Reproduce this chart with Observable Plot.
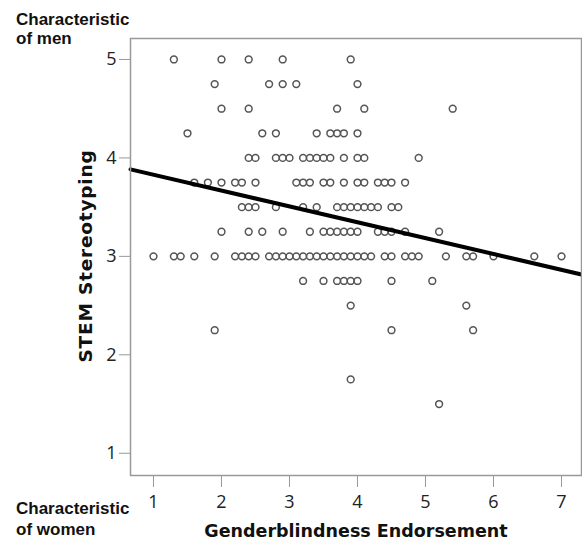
<!DOCTYPE html>
<html>
<head>
<meta charset="utf-8">
<script src="https://cdn.jsdelivr.net/npm/d3@7"></script>
<script src="https://cdn.jsdelivr.net/npm/@observablehq/plot@0.6"></script>
<style>
  html, body { margin: 0; padding: 0; background: #fff; }
  #chart { width: 582px; height: 543px; }
</style>
</head>
<body>
<div id="chart"></div>
<script>
// STEM stereotyping levels (y) and the genderblindness scores (x) observed at each level
const stemLevels = [5, 4.75, 4.5, 4.25, 4, 3.75, 3.5, 3.25, 3, 2.75, 2.5, 2.25, 1.75, 1.5];
const xAt500 = [1.3, 2.0, 2.4, 2.9, 3.9];
const xAt475 = [1.9, 2.7, 2.9, 3.1, 4.0];
const xAt450 = [2.0, 2.4, 3.7, 4.1, 5.4];
const xAt425 = [1.5, 2.6, 2.8, 3.4, 3.6, 3.7, 3.8, 4.0];
const xAt400 = [2.4, 2.5, 2.8, 2.9, 3.0, 3.2, 3.3, 3.4, 3.5, 3.6, 3.8, 4.0, 4.1, 4.9];
const xAt375 = [1.6, 1.8, 2.0, 2.2, 2.3, 2.5, 3.1, 3.2, 3.3, 3.5, 3.6, 3.8, 4.0, 4.1, 4.3, 4.4, 4.5, 4.7];
const xAt350 = [2.3, 2.4, 2.5, 2.8, 3.2, 3.4, 3.7, 3.8, 3.9, 4.0, 4.1, 4.2, 4.3, 4.5, 4.6];
const xAt325 = [2.0, 2.4, 2.6, 2.9, 3.3, 3.5, 3.6, 3.7, 3.8, 3.9, 4.0, 4.3, 4.4, 4.5, 4.7, 5.2];
const xAt300 = [1.0, 1.3, 1.4, 1.6, 1.9, 2.2, 2.3, 2.4, 2.5, 2.7, 2.8, 2.9, 3.0, 3.1, 3.2, 3.3, 3.4, 3.5, 3.6, 3.7, 3.8, 3.9, 4.0, 4.1, 4.2, 4.4, 4.5, 4.7, 4.8, 4.9, 5.3, 5.6, 5.7, 6.0, 6.6, 7.0];
const xAt275 = [3.2, 3.5, 3.7, 3.8, 3.9, 4.0, 4.5, 5.1];
const xAt250 = [3.9, 5.6];
const xAt225 = [1.9, 4.5, 5.7];
const xAt175 = [3.9];
const xAt150 = [5.2];
const xByLevel = [xAt500, xAt475, xAt450, xAt425, xAt400, xAt375, xAt350, xAt325, xAt300, xAt275, xAt250, xAt225, xAt175, xAt150];

// Fitted regression line
const fitIntercept = 3.99;
const fitSlope = -0.161;

// Axis ticks and labels
const xTicks = [1, 2, 3, 4, 5, 6, 7];
const yTicks = [1, 2, 3, 4, 5];
const xTitle = "Genderblindness Endorsement";
const yTitle = "STEM Stereotyping";
const topNote = ["Characteristic", "of men"];
const bottomNote = ["Characteristic", "of women"];

const points = stemLevels.flatMap((lvl, i) => xByLevel[i].map(x => ({x, y: lvl})));

const xDomain = [0.662, 7.294];
const yDomain = [0.774, 5.213];
const fitLine = xDomain.map(x => ({x, y: fitIntercept + fitSlope * x}));

const W = 582, H = 543;
const plot = Plot.plot({
  width: W,
  height: H,
  marginLeft: 130,
  marginRight: 1,
  marginTop: 38,
  marginBottom: 68,
  style: {fontFamily: "'Open Sans', sans-serif", fontSize: "19px", background: "#fff", color: "#222"},
  x: {domain: xDomain},
  y: {domain: yDomain},
  marks: [
    Plot.dot(points, {x: "x", y: "y", r: 3.4, stroke: "#555", strokeWidth: 1.5, fill: "none"}),
    Plot.line(fitLine, {x: "x", y: "y", stroke: "#000", strokeWidth: 4}),
    Plot.frame({stroke: "#999", strokeWidth: 1.5}),
    Plot.axisX({ticks: xTicks, tickFormat: d => String(d), tickSize: 12, tickPadding: 8, stroke: "#999", fill: "#222", label: null}),
    Plot.axisY({ticks: yTicks, tickFormat: d => String(d), tickSize: 11, tickPadding: 3, stroke: "#999", fill: "#222", label: null})
  ]
});

document.getElementById("chart").appendChild(plot);

const svg = d3.select(plot);
// tick labels: larger, light humanist digits
svg.selectAll("text")
  .style("font-size", "18px")
  .style("font-family", "'Open Sans', sans-serif");

svg.append("text")
  .attr("transform", "translate(92,256) rotate(-90)")
  .attr("text-anchor", "middle")
  .attr("font-family", "'DejaVu Sans', sans-serif")
  .attr("font-weight", "bold")
  .attr("font-size", 18.5)
  .attr("letter-spacing", 0.8)
  .attr("fill", "#111")
  .text(yTitle);
svg.append("text")
  .attr("x", 356).attr("y", 537)
  .attr("text-anchor", "middle")
  .attr("font-family", "'DejaVu Sans', sans-serif")
  .attr("font-weight", "bold")
  .attr("font-size", 17.5)
  .attr("fill", "#111")
  .text(xTitle);
const noteFont = "'Liberation Sans', Arial, sans-serif";
[[topNote, [25, 44]], [bottomNote, [514, 535]]].forEach(([lines, ys]) => {
  lines.forEach((t, i) => {
    svg.append("text")
      .attr("x", 16).attr("y", ys[i])
      .attr("text-anchor", "start")
      .attr("font-family", noteFont)
      .attr("font-weight", "bold")
      .attr("font-size", 17)
      .attr("fill", "#111")
      .text(t);
  });
});
</script>
</body>
</html>
